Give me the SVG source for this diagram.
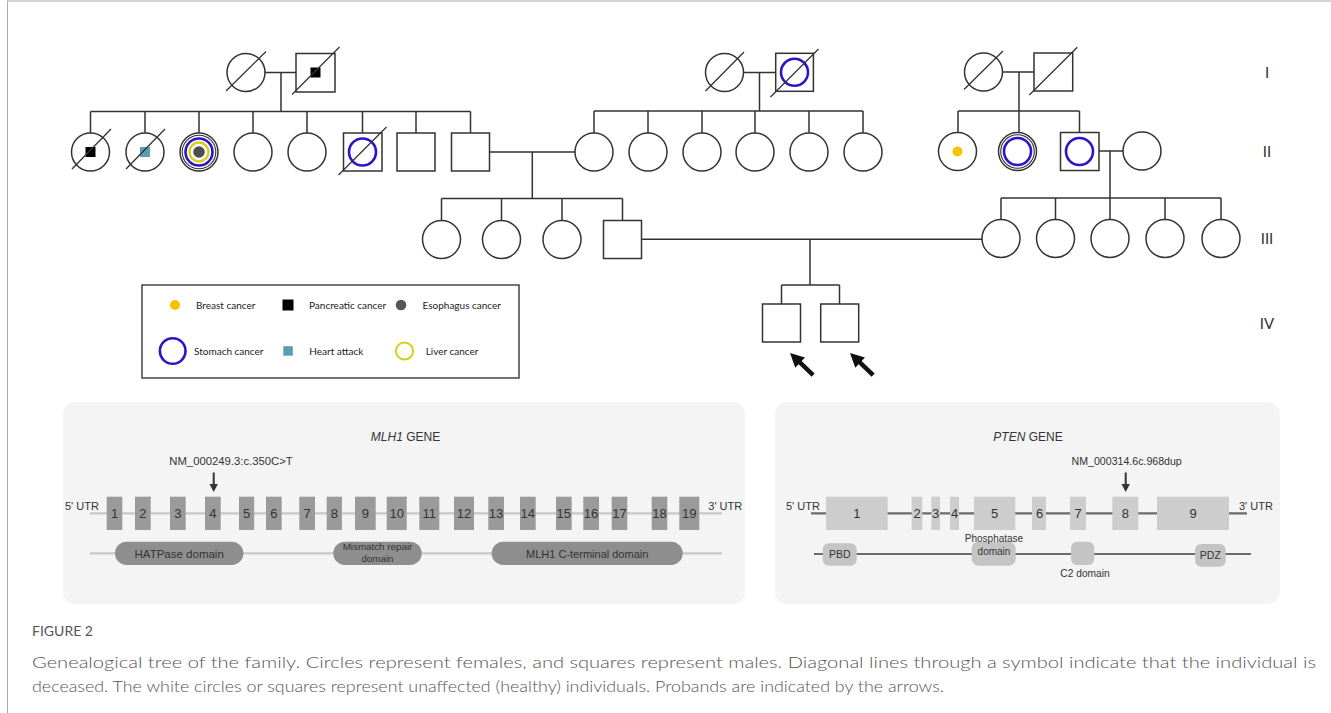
<svg xmlns="http://www.w3.org/2000/svg" width="1331" height="713" viewBox="0 0 1331 713">
<style>
.p{fill:#fff;stroke:#333;stroke-width:1.5}
.ln{fill:none;stroke:#333;stroke-width:1.5}
.dl{stroke:#333;stroke-width:1.3}
.blue{fill:none;stroke:#2a16c9;stroke-width:2.6}
.yel{fill:none;stroke:#d6cf1c;stroke-width:2.4}
.lg{font-family:Lato,"Liberation Sans",sans-serif;font-size:10px;fill:#222}
.rn{font-family:Lato,"Liberation Sans",sans-serif;font-size:15px;fill:#333;text-anchor:middle}
.g{font-family:"Liberation Sans",Arial,sans-serif;fill:#333}
.ex1{fill:#9a9a9a}
.ex2{fill:#cdcdcd}
.el{font-family:"Liberation Sans",Arial,sans-serif;font-size:13px;fill:#333;text-anchor:middle}
.cap{font-family:Lato,"Open Sans",sans-serif;fill:#555}
</style>
<rect x="0" y="0" width="1331" height="713" fill="#fff"/>
<line x1="7" y1="1" x2="1331" y2="1" stroke="#aaa" stroke-width="1"/>
<line x1="7.5" y1="1" x2="7.5" y2="713" stroke="#aaa" stroke-width="1"/>

<g id="connectors">
<path class="ln" d="M265,72.5H296 M281,72.5V111.5 M90.5,111.5H470.5 M90.5,111.5V133 M145,111.5V133 M199,111.5V133 M253,111.5V133 M307,111.5V133 M362.5,111.5V133 M416,111.5V133 M470.5,111.5V133"/>
<path class="ln" d="M743.5,72.5H775.7 M759.5,72.5V111 M594,111H863 M594,111V133 M648,111V133 M702,111V133 M755,111V133 M809,111V133 M863,111V133"/>
<path class="ln" d="M1002.5,72H1034 M1019,72V111 M958,111H1079.5 M958,111V133 M1019,111V133 M1079.5,111V133"/>
<path class="ln" d="M489.5,152H575 M532.3,152V198.5 M441.5,198.5H622.5 M441.5,198.5V220 M501.5,198.5V220 M562,198.5V220 M622.5,198.5V220"/>
<path class="ln" d="M1099,151H1123 M1110,151V198 M1001,198H1221 M1001,198V219.5 M1055.5,198V219.5 M1110,198V219.5 M1165,198V219.5 M1221,198V219.5"/>
<path class="ln" d="M641.5,239.3H982 M810,239.3V285 M781.5,285H839.5 M781.5,285V304 M839.5,285V304"/>
</g>

<g id="I-1"><circle class="p" cx="246" cy="72.5" r="19"/><line class="dl" x1="226" y1="91" x2="266" y2="51.5"/></g>
<g id="I-2"><rect class="p" x="296" y="53.5" width="39" height="38.5"/><rect x="310.5" y="67.5" width="10" height="10" fill="#000"/><line class="dl" x1="292" y1="94.5" x2="339.5" y2="47"/></g>
<g id="I-3"><circle class="p" cx="724.5" cy="72.5" r="19"/><line class="dl" x1="705.5" y1="91" x2="744" y2="52"/></g>
<g id="I-4"><rect class="p" x="775.7" y="53.3" width="37.7" height="38"/><circle class="blue" cx="794.5" cy="72.3" r="13.5"/><line class="dl" x1="770.5" y1="97" x2="818.5" y2="49"/></g>
<g id="I-5"><circle class="p" cx="983.5" cy="72" r="19"/><line class="dl" x1="964" y1="89.5" x2="1003" y2="51"/></g>
<g id="I-6"><rect class="p" x="1034" y="53" width="38.7" height="38"/><line class="dl" x1="1029.3" y1="95" x2="1077.3" y2="47.3"/></g>

<g id="II-1"><circle class="p" cx="90.5" cy="152" r="19"/><rect x="85.5" y="147" width="10" height="10" fill="#000"/><line class="dl" x1="72" y1="169" x2="111" y2="129"/></g>
<g id="II-2"><circle class="p" cx="145" cy="152" r="19"/><rect x="140" y="147" width="10" height="10" fill="#5b9db5"/><line class="dl" x1="126" y1="169" x2="165" y2="129"/></g>
<g id="II-3"><circle class="p" cx="199" cy="152" r="19"/><circle cx="199" cy="152" r="16.8" fill="none" stroke="#333" stroke-width="1.1"/><circle class="blue" cx="199" cy="152" r="13.5"/><circle class="yel" cx="199" cy="152" r="9.5"/><circle cx="199" cy="152" r="5.8" fill="#4d4d4d"/></g>
<g id="II-4"><circle class="p" cx="253" cy="152" r="19"/></g>
<g id="II-5"><circle class="p" cx="307" cy="152" r="19"/></g>
<g id="II-6"><rect class="p" x="343.5" y="133" width="38.5" height="38"/><circle class="blue" cx="362.5" cy="152" r="13.5"/><line class="dl" x1="338.5" y1="175" x2="386.5" y2="127"/></g>
<g id="II-7"><rect class="p" x="397" y="133" width="38" height="38"/></g>
<g id="II-8"><rect class="p" x="451.5" y="133" width="38" height="38"/></g>
<g id="II-9"><circle class="p" cx="594" cy="152" r="19"/></g>
<g id="II-10"><circle class="p" cx="648" cy="152" r="19"/></g>
<g id="II-11"><circle class="p" cx="702" cy="152" r="19"/></g>
<g id="II-12"><circle class="p" cx="755" cy="152" r="19"/></g>
<g id="II-13"><circle class="p" cx="809" cy="152" r="19"/></g>
<g id="II-14"><circle class="p" cx="863" cy="152" r="19"/></g>
<g id="II-15"><circle class="p" cx="957.5" cy="151.5" r="19"/><circle cx="957.5" cy="151.5" r="5" fill="#f5c400"/></g>
<g id="II-16"><circle class="p" cx="1017.5" cy="151.5" r="19"/><circle cx="1017.5" cy="151.5" r="16.8" fill="none" stroke="#333" stroke-width="1.1"/><circle class="blue" cx="1017.5" cy="151.5" r="13.5"/></g>
<g id="II-17"><rect class="p" x="1060.5" y="132.5" width="38.5" height="38"/><circle class="blue" cx="1079.5" cy="151.5" r="13.5"/></g>
<g id="II-18"><circle class="p" cx="1142" cy="151" r="19"/></g>

<g id="III-1"><circle class="p" cx="441.5" cy="239.5" r="19"/></g>
<g id="III-2"><circle class="p" cx="501.5" cy="239.5" r="19"/></g>
<g id="III-3"><circle class="p" cx="562" cy="239.5" r="19"/></g>
<g id="III-4"><rect class="p" x="603.5" y="220.5" width="38" height="38"/></g>
<g id="III-5"><circle class="p" cx="1001" cy="238.5" r="19"/></g>
<g id="III-6"><circle class="p" cx="1055.5" cy="238.5" r="19"/></g>
<g id="III-7"><circle class="p" cx="1110" cy="238.5" r="19"/></g>
<g id="III-8"><circle class="p" cx="1165" cy="238.5" r="19"/></g>
<g id="III-9"><circle class="p" cx="1221" cy="238.5" r="19"/></g>

<g id="IV-1"><rect class="p" x="762.5" y="304" width="38" height="38"/></g>
<g id="IV-2"><rect class="p" x="820.7" y="304" width="38" height="38"/></g>
<g id="proband-arrows">
<polygon transform="translate(790,353) rotate(43.7)" points="0,0 14,-7 14,-2.2 32,-2.2 32,2.2 14,2.2 14,7" fill="#111"/>
<polygon transform="translate(850,353) rotate(43.7)" points="0,0 14,-7 14,-2.2 32,-2.2 32,2.2 14,2.2 14,7" fill="#111"/>
</g>

<g id="gen-labels">
<text class="rn" x="1267" y="78">I</text>
<text class="rn" x="1267" y="157">II</text>
<text class="rn" x="1267" y="244">III</text>
<text class="rn" x="1267" y="329">IV</text>
</g>

<g id="legend">
<rect x="142" y="285" width="377" height="93" fill="#fff" stroke="#444" stroke-width="1.5"/>
<circle cx="175" cy="305" r="5" fill="#f5c400"/>
<text class="lg" x="196" y="308.5">Breast cancer</text>
<rect x="282.5" y="299.5" width="11" height="11" fill="#000"/>
<text class="lg" x="309" y="308.5">Pancreatic cancer</text>
<circle cx="401" cy="305" r="5.3" fill="#555"/>
<text class="lg" x="422.5" y="308.5">Esophagus cancer</text>
<circle class="blue" cx="172.7" cy="351" r="12.8"/>
<text class="lg" x="194" y="354.5">Stomach cancer</text>
<rect x="283.3" y="346.2" width="9.5" height="9.5" fill="#5b9db5"/>
<text class="lg" x="309.3" y="354.5">Heart attack</text>
<circle cx="404.5" cy="351" r="8.6" fill="none" stroke="#d6cf1c" stroke-width="2"/>
<text class="lg" x="425.7" y="354.5">Liver cancer</text>
</g>

<g id="mlh1-gene">
<rect x="63" y="402" width="682" height="202" rx="12" fill="#f4f4f4"/>
<text class="g" x="405.5" y="441" font-size="12" text-anchor="middle"><tspan font-style="italic">MLH1</tspan> GENE</text>
<text class="g" x="231" y="465" font-size="11.3" text-anchor="middle">NM_000249.3:c.350C&gt;T</text>
<line x1="213.7" y1="472.5" x2="213.7" y2="485" stroke="#333" stroke-width="2"/>
<polygon points="209.5,484 217.9,484 213.7,492" fill="#333"/>
<line x1="90" y1="513.3" x2="722" y2="513.3" stroke="#c8c8c8" stroke-width="2.2"/>
<line x1="90" y1="553.3" x2="722" y2="553.3" stroke="#c8c8c8" stroke-width="2.2"/>
<text class="g" x="65" y="510" font-size="11">5' UTR</text>
<text class="g" x="708.3" y="510" font-size="11">3' UTR</text>
<g class="ex1">
<rect x="106.7" y="496.7" width="15.6" height="33.3"/>
<rect x="135" y="496.7" width="15.7" height="33.3"/>
<rect x="170" y="496.7" width="15.7" height="33.3"/>
<rect x="205" y="496.7" width="15.7" height="33.3"/>
<rect x="239" y="496.7" width="15.2" height="33.3"/>
<rect x="266" y="496.7" width="15.7" height="33.3"/>
<rect x="299.3" y="496.7" width="15.7" height="33.3"/>
<rect x="326.7" y="496.7" width="15.2" height="33.3"/>
<rect x="355" y="496.7" width="20.7" height="33.3"/>
<rect x="386.7" y="496.7" width="20" height="33.3"/>
<rect x="419.3" y="496.7" width="20" height="33.3"/>
<rect x="454" y="496.7" width="20" height="33.3"/>
<rect x="488.3" y="496.7" width="15.7" height="33.3"/>
<rect x="520" y="496.7" width="15.7" height="33.3"/>
<rect x="556" y="496.7" width="15.7" height="33.3"/>
<rect x="583.3" y="496.7" width="15.7" height="33.3"/>
<rect x="611.7" y="496.7" width="15.6" height="33.3"/>
<rect x="651.7" y="496.7" width="15.6" height="33.3"/>
<rect x="679.3" y="496.7" width="20" height="33.3"/>
</g>
<g class="el">
<text x="114.5" y="518">1</text>
<text x="142.8" y="518">2</text>
<text x="177.8" y="518">3</text>
<text x="212.8" y="518">4</text>
<text x="246.6" y="518">5</text>
<text x="273.8" y="518">6</text>
<text x="307.1" y="518">7</text>
<text x="334.3" y="518">8</text>
<text x="365.3" y="518">9</text>
<text x="396.7" y="518">10</text>
<text x="429.3" y="518">11</text>
<text x="464" y="518">12</text>
<text x="496.1" y="518">13</text>
<text x="527.8" y="518">14</text>
<text x="563.8" y="518">15</text>
<text x="591.1" y="518">16</text>
<text x="619.5" y="518">17</text>
<text x="659.5" y="518">18</text>
<text x="689.3" y="518">19</text>
</g>
<rect x="115" y="541.7" width="128.3" height="23.3" rx="11.6" fill="#8e8e8e"/>
<text class="g" x="179.2" y="557.5" font-size="11.5" text-anchor="middle" fill="#222">HATPase domain</text>
<rect x="333.3" y="541.7" width="88.4" height="23.3" rx="11.6" fill="#8e8e8e"/>
<text class="g" x="377.5" y="550" font-size="9.8" text-anchor="middle" fill="#222">Mismatch repair</text>
<text class="g" x="377.5" y="562" font-size="9.8" text-anchor="middle" fill="#222">domain</text>
<rect x="491.7" y="541.7" width="191" height="23.3" rx="11.6" fill="#8e8e8e"/>
<text class="g" x="587.2" y="557.5" font-size="11" text-anchor="middle" fill="#222">MLH1 C-terminal domain</text>
</g>

<g id="pten-gene">
<rect x="775" y="402" width="505" height="202" rx="12" fill="#f4f4f4"/>
<text class="g" x="1028" y="441" font-size="12" text-anchor="middle"><tspan font-style="italic">PTEN</tspan> GENE</text>
<text class="g" x="1126.7" y="465" font-size="10.6" text-anchor="middle">NM_000314.6c.968dup</text>
<line x1="1125.7" y1="472.5" x2="1125.7" y2="485" stroke="#333" stroke-width="2"/>
<polygon points="1121.5,484 1129.9,484 1125.7,492" fill="#333"/>
<line x1="811" y1="513.3" x2="1247" y2="513.3" stroke="#6a6a6a" stroke-width="2.2"/>
<line x1="814" y1="554" x2="1251" y2="554" stroke="#6a6a6a" stroke-width="2.2"/>
<text class="g" x="786" y="510" font-size="11">5' UTR</text>
<text class="g" x="1239" y="510" font-size="11">3' UTR</text>
<g class="ex2">
<rect x="826" y="496.7" width="61.7" height="33.3"/>
<rect x="911.7" y="496.7" width="10.6" height="33.3"/>
<rect x="931.3" y="496.7" width="8.7" height="33.3"/>
<rect x="950" y="496.7" width="9" height="33.3"/>
<rect x="974" y="496.7" width="41.3" height="33.3"/>
<rect x="1032" y="496.7" width="14" height="33.3"/>
<rect x="1070" y="496.7" width="16" height="33.3"/>
<rect x="1112.3" y="496.7" width="26" height="33.3"/>
<rect x="1157" y="496.7" width="72" height="33.3"/>
</g>
<g class="el">
<text x="856.8" y="518">1</text>
<text x="917" y="518">2</text>
<text x="935.6" y="518">3</text>
<text x="954.5" y="518">4</text>
<text x="994.6" y="518">5</text>
<text x="1039.5" y="518">6</text>
<text x="1078" y="518">7</text>
<text x="1125.3" y="518">8</text>
<text x="1193" y="518">9</text>
</g>
<rect x="822.7" y="543.3" width="34" height="22.4" rx="6" fill="#c4c4c4"/>
<text class="g" x="839.7" y="558" font-size="10.5" text-anchor="middle">PBD</text>
<rect x="971.7" y="541.7" width="44" height="24" rx="7" fill="#c4c4c4"/>
<text class="g" x="994" y="541.5" font-size="10" text-anchor="middle">Phosphatase</text>
<text class="g" x="994" y="555" font-size="10" text-anchor="middle">domain</text>
<rect x="1071" y="541.7" width="23.3" height="23.3" rx="6" fill="#c4c4c4"/>
<text class="g" x="1085" y="577" font-size="10.2" text-anchor="middle">C2 domain</text>
<rect x="1195" y="544" width="30.7" height="22.7" rx="6" fill="#c4c4c4"/>
<text class="g" x="1210.3" y="558.5" font-size="10.5" text-anchor="middle">PDZ</text>
</g>

<g id="caption">
<text class="cap" x="32" y="636" font-size="13" fill="#555" textLength="61" lengthAdjust="spacingAndGlyphs">FIGURE 2</text>
<text class="cap" x="32" y="668" font-size="16" font-weight="300" textLength="1284" lengthAdjust="spacingAndGlyphs">Genealogical tree of the family. Circles represent females, and squares represent males. Diagonal lines through a symbol indicate that the individual is</text>
<text class="cap" x="32" y="692" font-size="16" font-weight="300" textLength="912" lengthAdjust="spacingAndGlyphs">deceased. The white circles or squares represent unaffected (healthy) individuals. Probands are indicated by the arrows.</text>
</g>
</svg>
